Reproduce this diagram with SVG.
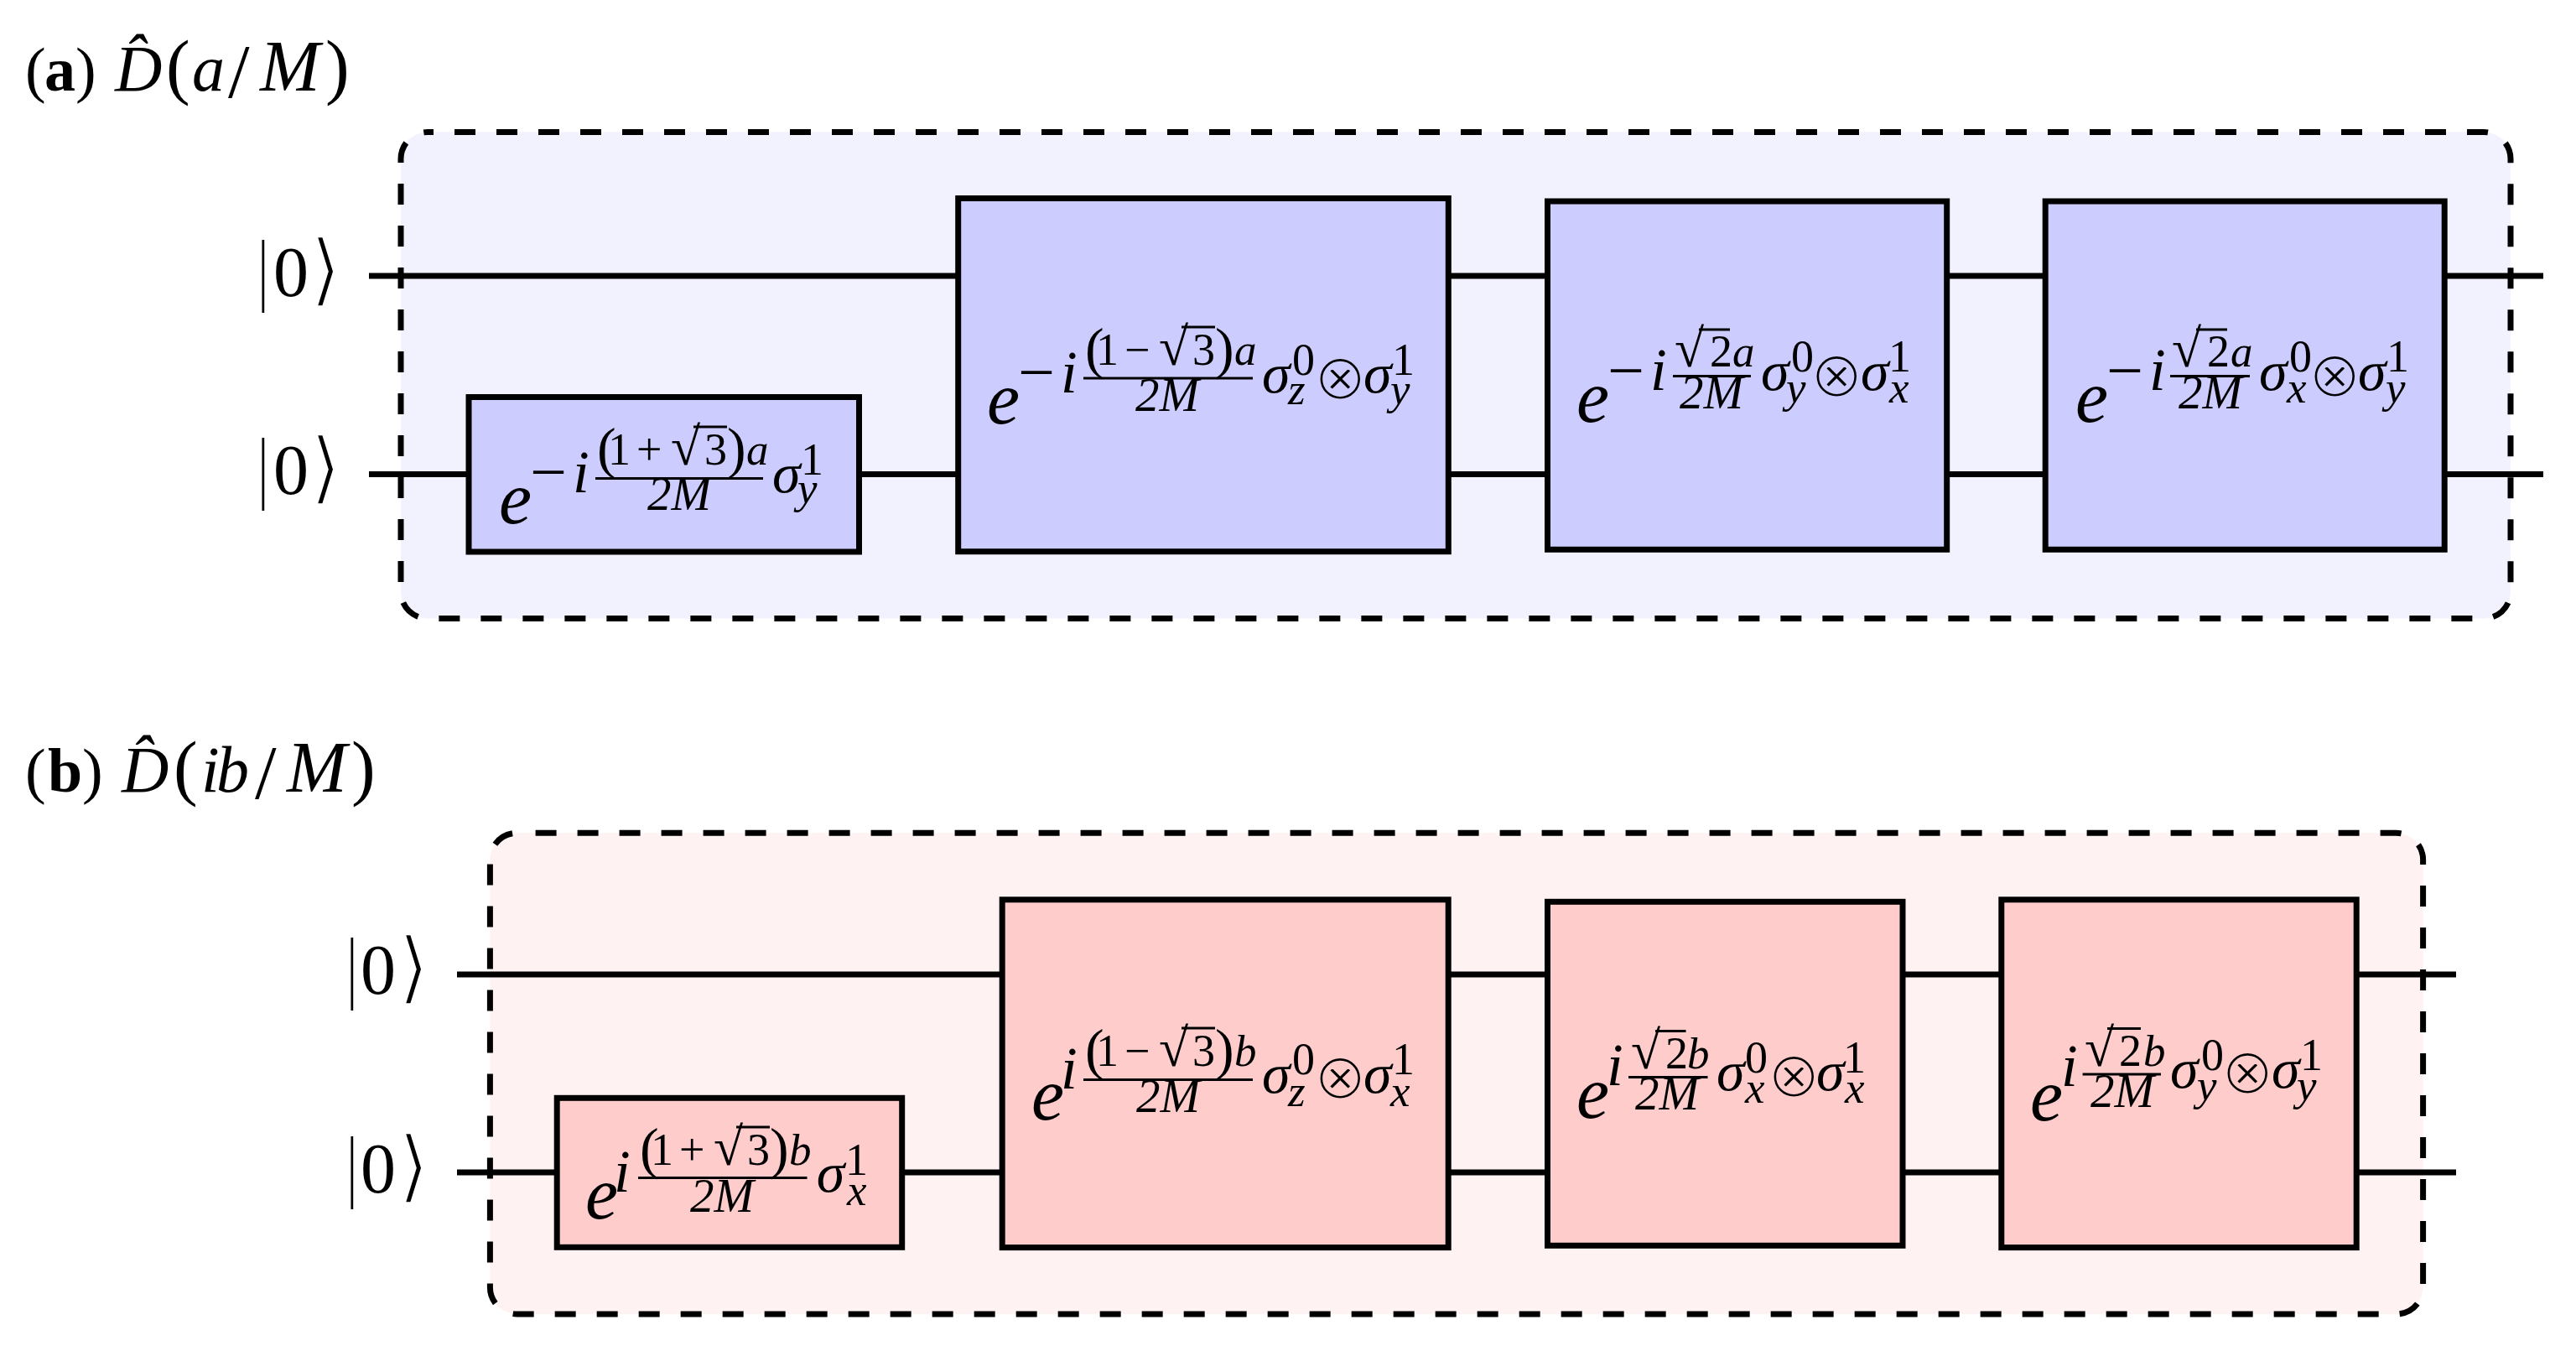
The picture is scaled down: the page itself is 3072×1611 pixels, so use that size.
<svg xmlns="http://www.w3.org/2000/svg" width="3072" height="1611" viewBox="0 0 3072 1611">
<style>
text{font-family:"Liberation Serif",serif;fill:#000}
.pa{fill:#f2f2ff}.pb{fill:#fff2f2}
.frame{fill:none;stroke:#000;stroke-width:7;stroke-dasharray:25 25}
.ga{fill:#ccccff;stroke:#000;stroke-width:7}
.gb{fill:#ffcccc;stroke:#000;stroke-width:7}
.w{stroke:#000;stroke-width:7;fill:none}
.r{stroke:#000;stroke-width:3;fill:none}
.e{font-size:88px;font-style:italic}
.m{font-size:78px}
.i{font-size:71px;font-style:italic}
.sg{font-size:68px;font-style:italic}
.p{font-size:68px}
.s{font-size:54px}
.si{font-size:53px;font-style:italic}
.d{font-size:57px;font-style:italic}
.rad{font-size:64px}
.o{font-size:77px;font-family:"DejaVu Sans",sans-serif}
.oa .o{stroke:#ccccff;stroke-width:3}
.ob .o{stroke:#ffcccc;stroke-width:3}
.k{font-size:84px}
.kb{font-size:98px;stroke:#fff;stroke-width:2}
.ka{font-size:94px;font-family:"DejaVu Sans",sans-serif;stroke:#fff;stroke-width:2.5}
.t{font-size:74px}
.tb{font-size:74px;font-weight:bold}
.ti{font-size:78px;font-style:italic}
.tm{font-size:86px;font-style:italic}
.ts{font-size:92px}
.tp{font-size:86px}
</style>

<g id="panel-a"><rect class="pa" x="478" y="157.5" width="2516" height="580" rx="32"/><rect class="frame" stroke-dashoffset="18" x="478" y="157.5" width="2516" height="580" rx="32"/></g>
<g id="panel-b"><rect class="pb" x="584.4" y="993.3" width="2305.2" height="573.7" rx="32"/><rect class="frame" stroke-dashoffset="27.8" x="584.4" y="993.3" width="2305.2" height="573.7" rx="32"/></g>

<g id="connectors">
<path class="w" d="M440 329H1143M1727 329H1845M2322 329H2439M2915 329H3033"/>
<path class="w" d="M440 565.5H559M1024 565.5H1143M1727 565.5H1845M2322 565.5H2439M2915 565.5H3033"/>
<path class="w" d="M545 1162H1195M1727 1162H1845M2269 1162H2387M2810 1162H2929"/>
<path class="w" d="M545 1398H664M1076 1398H1195M1727 1398H1845M2269 1398H2387M2810 1398H2929"/>
</g>

<g id="title-a"><text y="108"><tspan class="t" x="30">(</tspan><tspan class="tb" x="53">a</tspan><tspan class="t" x="90">)</tspan><tspan class="ti" x="137">D̂</tspan><tspan class="tp" x="198">(</tspan><tspan class="ti" x="229">a</tspan><tspan class="ts" x="272" y="116">/</tspan><tspan class="tm" x="310" y="108">M</tspan><tspan class="tp" x="388">)</tspan></text></g>
<g id="title-b"><text y="944"><tspan class="t" x="30">(</tspan><tspan class="tb" x="57">b</tspan><tspan class="t" x="98">)</tspan><tspan class="ti" x="145">D̂</tspan><tspan class="tp" x="207">(</tspan><tspan class="ti" x="240">i</tspan><tspan class="ti" x="258">b</tspan><tspan class="ts" x="304" y="952">/</tspan><tspan class="tm" x="342" y="944">M</tspan><tspan class="tp" x="419">)</tspan></text></g>

<g id="ket-a0"><text y="353"><tspan class="kb" x="304">|</tspan><tspan class="k" x="326">0</tspan><tspan class="ka" x="370">⟩</tspan></text></g>
<g id="ket-a1"><text y="589"><tspan class="kb" x="304">|</tspan><tspan class="k" x="326">0</tspan><tspan class="ka" x="370">⟩</tspan></text></g>
<g id="ket-b0"><text y="1185"><tspan class="kb" x="410">|</tspan><tspan class="k" x="430">0</tspan><tspan class="ka" x="475">⟩</tspan></text></g>
<g id="ket-b1"><text y="1422"><tspan class="kb" x="410">|</tspan><tspan class="k" x="430">0</tspan><tspan class="ka" x="475">⟩</tspan></text></g>

<g id="gate-a1" class="oa"><rect class="ga" x="559" y="473.5" width="465.5" height="184.5"/>
<g transform="translate(595 624)"><text><tspan class="e" x="0" y="0">e</tspan><tspan class="m" x="37" y="-35">−</tspan><tspan class="i" x="88" y="-37">i</tspan><tspan class="p" x="117" y="-67">(</tspan><tspan class="s" x="130" y="-70">1</tspan><tspan class="s" x="164" y="-70">+</tspan><tspan class="rad" x="205" y="-70">√</tspan><tspan class="s" x="245" y="-70">3</tspan><tspan class="p" x="272" y="-67">)</tspan><tspan class="si" x="295" y="-70">a</tspan><tspan class="d" x="177" y="-16">2M</tspan><tspan class="sg" x="326" y="-37">σ</tspan><tspan class="s" x="360" y="-58">1</tspan><tspan class="si" x="356" y="-24">y</tspan></text>
<path class="r" d="M115 -53.4H315M232 -115H272"/></g></g>

<g id="gate-a2" class="oa"><rect class="ga" x="1142.7" y="236.5" width="584.6" height="421.2"/>
<g transform="translate(1177 505)"><text><tspan class="e" x="0" y="0">e</tspan><tspan class="m" x="37" y="-35">−</tspan><tspan class="i" x="88" y="-37">i</tspan><tspan class="p" x="117" y="-67">(</tspan><tspan class="s" x="130" y="-70">1</tspan><tspan class="s" x="164" y="-70">−</tspan><tspan class="rad" x="205" y="-70">√</tspan><tspan class="s" x="245" y="-70">3</tspan><tspan class="p" x="272" y="-67">)</tspan><tspan class="si" x="295" y="-70">a</tspan><tspan class="d" x="177" y="-15">2M</tspan><tspan class="sg" x="328" y="-37">σ</tspan><tspan class="s" x="364" y="-58">0</tspan><tspan class="si" x="359" y="-23">z</tspan><tspan class="o" x="389" y="-29">⊗</tspan><tspan class="sg" x="449" y="-37">σ</tspan><tspan class="s" x="483" y="-58">1</tspan><tspan class="si" x="481" y="-23">y</tspan></text>
<path class="r" d="M115 -54H317M232 -115H272"/></g></g>

<g id="gate-a3" class="oa"><rect class="ga" x="1845.5" y="240" width="476.2" height="415.3"/>
<g transform="translate(1880 503)"><text><tspan class="e" x="0" y="0">e</tspan><tspan class="m" x="37" y="-35">−</tspan><tspan class="i" x="88" y="-38">i</tspan><tspan class="rad" x="117" y="-65.6">√</tspan><tspan class="s" x="159" y="-65.6">2</tspan><tspan class="si" x="186" y="-65.6">a</tspan><tspan class="d" x="123" y="-16.5">2M</tspan><tspan class="sg" x="220" y="-38">σ</tspan><tspan class="s" x="256" y="-60">0</tspan><tspan class="si" x="250" y="-23">y</tspan><tspan class="o" x="278" y="-30">⊗</tspan><tspan class="sg" x="339" y="-38">σ</tspan><tspan class="s" x="372" y="-60">1</tspan><tspan class="si" x="373" y="-23">x</tspan></text>
<path class="r" d="M115 -54.6H208M146 -110H183"/></g></g>

<g id="gate-a4" class="oa"><rect class="ga" x="2439.2" y="240" width="476" height="415.3"/>
<g transform="translate(2475 503)"><text><tspan class="e" x="0" y="0">e</tspan><tspan class="m" x="37" y="-35">−</tspan><tspan class="i" x="88" y="-38">i</tspan><tspan class="rad" x="115" y="-65.6">√</tspan><tspan class="s" x="157" y="-65.6">2</tspan><tspan class="si" x="185" y="-65.6">a</tspan><tspan class="d" x="123" y="-16.5">2M</tspan><tspan class="sg" x="219" y="-38">σ</tspan><tspan class="s" x="255" y="-60">0</tspan><tspan class="si" x="252" y="-23">x</tspan><tspan class="o" x="277" y="-30">⊗</tspan><tspan class="sg" x="337" y="-38">σ</tspan><tspan class="s" x="371" y="-60">1</tspan><tspan class="si" x="370" y="-23">y</tspan></text>
<path class="r" d="M113 -54.6H208M144 -110H181"/></g></g>

<g id="gate-b1" class="ob"><rect class="gb" x="664.2" y="1309.3" width="411.5" height="178"/>
<g transform="translate(698 1453)"><text><tspan class="e" x="0" y="0">e</tspan><tspan class="i" x="34" y="-32">i</tspan><tspan class="p" x="65" y="-61">(</tspan><tspan class="s" x="78" y="-64">1</tspan><tspan class="s" x="112" y="-64">+</tspan><tspan class="rad" x="153" y="-64">√</tspan><tspan class="s" x="193" y="-64">3</tspan><tspan class="p" x="220" y="-61">)</tspan><tspan class="si" x="243" y="-64">b</tspan><tspan class="d" x="125" y="-8">2M</tspan><tspan class="sg" x="275.7" y="-32">σ</tspan><tspan class="s" x="310" y="-52">1</tspan><tspan class="si" x="312" y="-16">x</tspan></text>
<path class="r" d="M63 -48.5H264.5M180 -109H220"/></g></g>

<g id="gate-b2" class="ob"><rect class="gb" x="1195.2" y="1072.8" width="532" height="414.8"/>
<g transform="translate(1230 1335)"><text><tspan class="e" x="0" y="0">e</tspan><tspan class="i" x="35" y="-37">i</tspan><tspan class="p" x="64" y="-61">(</tspan><tspan class="s" x="77" y="-64">1</tspan><tspan class="s" x="111" y="-64">−</tspan><tspan class="rad" x="152" y="-64">√</tspan><tspan class="s" x="192" y="-64">3</tspan><tspan class="p" x="219" y="-61">)</tspan><tspan class="si" x="242" y="-64">b</tspan><tspan class="d" x="125" y="-9">2M</tspan><tspan class="sg" x="275" y="-32">σ</tspan><tspan class="s" x="311" y="-54">0</tspan><tspan class="si" x="306" y="-16">z</tspan><tspan class="o" x="336" y="-25">⊗</tspan><tspan class="sg" x="396" y="-32">σ</tspan><tspan class="s" x="430" y="-54">1</tspan><tspan class="si" x="428" y="-16">x</tspan></text>
<path class="r" d="M62 -47.5H264M179 -109H219"/></g></g>

<g id="gate-b3" class="ob"><rect class="gb" x="1845.5" y="1075.3" width="423.5" height="410"/>
<g transform="translate(1880 1333)"><text><tspan class="e" x="0" y="0">e</tspan><tspan class="i" x="36" y="-39">i</tspan><tspan class="rad" x="65" y="-59">√</tspan><tspan class="s" x="106" y="-59">2</tspan><tspan class="si" x="132" y="-59">b</tspan><tspan class="d" x="70" y="-10">2M</tspan><tspan class="sg" x="167" y="-33">σ</tspan><tspan class="s" x="201" y="-54">0</tspan><tspan class="si" x="201" y="-18">x</tspan><tspan class="o" x="227" y="-25.4">⊗</tspan><tspan class="sg" x="286" y="-33">σ</tspan><tspan class="s" x="318" y="-54">1</tspan><tspan class="si" x="320" y="-18">x</tspan></text>
<path class="r" d="M62 -48.4H156.5M94 -103.5H130.5"/></g></g>

<g id="gate-b4" class="ob"><rect class="gb" x="2386.8" y="1072.8" width="423.4" height="414.8"/>
<g transform="translate(2421 1336)"><text><tspan class="e" x="0" y="0">e</tspan><tspan class="i" x="37" y="-41">i</tspan><tspan class="rad" x="65" y="-65">√</tspan><tspan class="s" x="106" y="-65">2</tspan><tspan class="si" x="135" y="-65">b</tspan><tspan class="d" x="72" y="-16">2M</tspan><tspan class="sg" x="167" y="-39">σ</tspan><tspan class="s" x="204" y="-60">0</tspan><tspan class="si" x="199" y="-24">y</tspan><tspan class="o" x="227" y="-32">⊗</tspan><tspan class="sg" x="288" y="-39">σ</tspan><tspan class="s" x="322" y="-60">1</tspan><tspan class="si" x="318" y="-24">y</tspan></text>
<path class="r" d="M62.6 -55H156M92 -109.4H132"/></g></g>
</svg>
